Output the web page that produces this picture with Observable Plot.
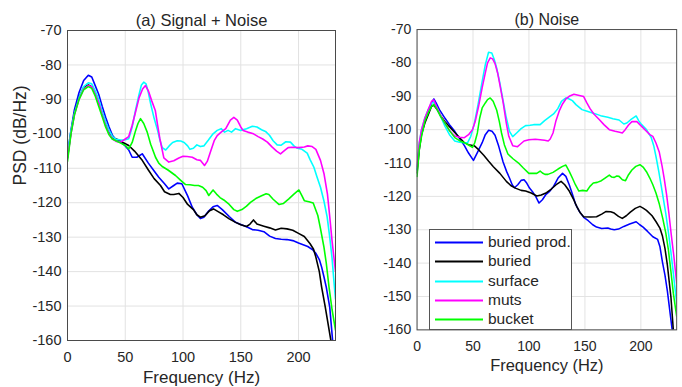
<!DOCTYPE html>
<html><head><meta charset="utf-8">
<script src="https://cdn.jsdelivr.net/npm/d3@7"></script>
<script src="https://cdn.jsdelivr.net/npm/@observablehq/plot@0.6"></script>
<style>
html,body{margin:0;padding:0;background:#fff;overflow:hidden}
#wrap{position:relative;width:682px;height:387px;overflow:hidden;background:#fff}
#left{position:absolute;left:0;top:0}
#right{position:absolute;left:341px;top:0}
#legend{position:absolute;left:429px;top:229px;width:143px;height:101px;border:1px solid #555;background:#fff;box-sizing:border-box;font-family:"Liberation Sans",Arial,sans-serif;font-size:15.5px;color:#262626}
#legend .row{position:absolute;left:0;height:19px;line-height:19px;white-space:nowrap}
#legend svg{position:absolute;left:5px;top:9px}
#legend span{position:absolute;left:58px;top:0}
</style></head>
<body><div id="wrap"><div id="left"></div><div id="right"></div><div id="legend"></div></div>
<script>
const seriesNames = ["buried prod.", "buried", "surface", "muts", "bucket"];
const seriesColors = ["#0000ff", "#000000", "#00ffff", "#ff00ff", "#00ff00"];
const xTicks = [0, 50, 100, 150, 200];
const yTicks = [-160, -150, -140, -130, -120, -110, -100, -90, -80, -70];
const panelTitles = ["(a) Signal + Noise", "(b) Noise"];

// (a) Signal + Noise  [frequency Hz, PSD dB/Hz]
const aBuriedProd = [[0,-106],[3,-99],[6,-93],[10,-88],[14,-84.5],[18,-83],[21,-83.5],[24,-86],[27,-88.5],[30,-92],[33,-95.2],[36,-98],[39,-100.5],[42,-101.7],[45,-102],[50,-103.5],[53,-104.7],[56,-106.8],[60,-106.8],[64.7,-105.8],[70,-108.5],[75,-110.8],[79,-112.6],[84,-114.5],[87.7,-116],[92,-115],[95,-114.3],[99,-114.5],[104,-118],[108,-121.3],[112,-123.5],[115,-124.6],[118,-124.2],[122,-122.5],[126,-121.2],[129.6,-120.8],[134,-122],[140,-124],[145.5,-125.7],[150,-126.3],[155,-127],[160,-127.8],[165,-128],[170,-128.4],[175,-129.7],[180,-130.4],[185,-130.6],[190,-130.7],[195,-131],[200,-131.7],[208,-132.7],[212,-133.6],[215,-134.7],[218,-136.5],[220,-138.7],[222,-141.5],[224,-144.5],[227,-150.3],[229.5,-160],[231,-165]];
const aBuried = [[0,-107],[3,-99.5],[6,-94],[10,-89.5],[14,-86.5],[18,-85.8],[21,-86.3],[24,-88.5],[27,-91],[30,-94],[33,-97],[36,-99.5],[40,-101.3],[44,-101.7],[48,-102.5],[53,-103.4],[58,-105],[64.7,-107.7],[70,-110.5],[75,-113],[80.5,-115],[84,-116.8],[89,-117.6],[92,-117.6],[96.4,-117.3],[100,-118.5],[104,-120.5],[109,-122],[112,-123.5],[115,-124.2],[119,-123.8],[123,-122.3],[126.4,-121.8],[130,-122.5],[135,-123.5],[140,-124.7],[145.5,-125.7],[150,-126.4],[155,-126.9],[158,-126.2],[161,-125],[164,-126.2],[170,-126.8],[175,-127.3],[180,-127.9],[185,-127.4],[190,-127.6],[195,-128],[200,-128.9],[205,-129.8],[210,-131.9],[213,-133.5],[215,-135.8],[218,-140],[220,-144.5],[223,-150],[225,-154],[228,-160],[230,-165]];
const aSurface = [[0,-106],[3,-99],[6,-94],[10,-89.5],[14,-86.3],[18,-85.2],[21,-85.5],[24,-87.5],[27,-90],[30,-93.5],[33,-96.5],[36,-99],[39,-100.8],[42,-101.6],[46,-101.8],[50,-101.7],[53,-101.4],[56,-98],[59,-93],[62,-88.5],[64,-85.8],[66,-85],[68,-85.5],[70,-88],[72,-91.3],[75,-95.5],[78,-99],[80,-101.8],[82,-104],[85,-104.7],[88,-103.5],[91,-102.5],[95,-102],[98,-102.1],[101,-102.5],[104,-103.5],[106,-104.5],[109,-104.2],[112,-103.2],[115,-103.7],[118,-103.5],[122,-101.8],[126,-100],[129.6,-99],[133,-98.5],[136,-99.5],[139,-99],[142,-99.5],[145.5,-98.5],[150,-99],[155,-98.5],[160,-97.8],[164,-98],[168,-98.8],[171.4,-99.3],[175,-100.5],[178,-102],[181.5,-103.2],[185,-103.3],[189,-102.3],[193,-102.4],[196,-103.5],[199,-104.2],[203,-104.5],[207.5,-105.6],[210,-107.5],[213.3,-109.7],[216,-112.5],[219,-115.5],[222,-119.5],[224.8,-124.2],[227,-130],[229,-136],[230.6,-142.6],[232,-148]];
const aMuts = [[0,-107],[3,-100],[6,-94.5],[10,-90],[14,-87],[18,-86],[21,-86.3],[24,-88.5],[27,-91],[30,-94.5],[33,-97.5],[36,-100],[39,-101.5],[42,-102.2],[46,-102.4],[50,-101.5],[53,-100.8],[56,-97.5],[59,-93.5],[62,-89.5],[65,-87],[67.5,-86],[70,-87.5],[73,-90.5],[76,-93.2],[78,-97.5],[80,-101.5],[83.4,-107],[87.7,-108.2],[92,-107.8],[96.4,-107],[100,-106.5],[103.6,-106.6],[108,-106.8],[112,-107.5],[115,-107.7],[118.6,-109.2],[121,-108],[124,-105],[127,-102],[129.6,-100.5],[133,-99.5],[137,-98.5],[141,-96],[144,-95.2],[147,-96],[150,-98],[152,-99],[156,-99.5],[161,-100],[165,-100.8],[169,-101.5],[173,-102.4],[177,-103.8],[181,-105],[184.4,-105.8],[188,-104.8],[191,-104],[194.5,-103.9],[200,-104],[205,-103.8],[208,-103.5],[211.8,-103.7],[215,-104.5],[219,-107.7],[222,-111.5],[225,-117.4],[227,-124],[229,-131],[232,-140]];
const aBucket = [[0,-108],[3,-100],[6,-94.5],[10,-90],[14,-87.2],[18,-86.3],[21,-86.8],[24,-89],[27,-92],[30,-95],[33,-98],[36,-100.3],[38.7,-101.5],[42,-102],[46,-102.7],[50.2,-103.4],[53,-104.4],[56,-102.5],[59,-99],[61,-97],[63.2,-95.6],[66,-97],[69,-99.5],[72,-103],[76.2,-106.8],[79,-108.5],[82,-109.5],[87,-110.5],[93.5,-112.1],[98,-113.5],[102,-114.7],[106,-114.8],[110,-115],[113.4,-115],[117,-115.5],[120,-116.5],[122.3,-117.9],[126,-116.3],[129,-117.5],[132,-118.5],[135.3,-119.2],[140,-120.5],[144,-122],[147,-122.5],[151,-122],[155,-121],[158.4,-119.9],[163,-118.8],[168,-118],[172,-117.4],[174.3,-117.6],[178,-119],[183,-120.5],[187,-120.2],[191.6,-118.9],[196,-117.5],[200.3,-116.3],[203,-118],[205,-119.4],[209,-119.7],[212.7,-120.1],[216.7,-123.7],[219,-127.5],[222,-132.9],[224,-137.5],[226.4,-144.5],[229,-151],[232,-157]];

// (b) Noise
const bBuriedProd = [[0,-112],[2,-105],[4,-101],[7,-97.5],[10,-95],[13,-92],[15,-90.8],[17,-92],[20,-94],[25,-96.6],[29,-98.5],[33.7,-100.5],[38,-102.7],[42.3,-104.8],[46,-107],[50.4,-109.2],[54,-106.8],[58.2,-103.9],[61,-101.5],[64,-100.2],[67,-100.5],[69.7,-101.7],[73,-105],[76.9,-109.7],[80,-112.5],[82.6,-114.5],[85,-116.5],[87,-117.4],[90,-116.5],[93,-115.2],[95.6,-115],[98,-116],[100.5,-117.5],[103,-118.5],[106,-120],[109,-122],[112,-121],[115,-119.5],[118.7,-118.4],[122,-117],[126,-114.5],[130,-113.1],[133,-114],[136,-116.5],[139,-119.5],[141.6,-122.3],[145,-124.5],[148.9,-126.3],[153,-127.3],[157,-128.5],[160.4,-129.2],[165,-129.6],[170.5,-129.5],[173,-129.8],[176.2,-130],[180,-129.8],[184.8,-129],[190,-128.3],[195.8,-127.6],[199,-128.5],[202,-129.2],[206,-130.5],[210.7,-132.1],[215,-132.9],[217,-135],[219.3,-139.7],[221.5,-143.5],[223.7,-148.4],[226.9,-157.1],[228,-160],[230,-166]];
const bBuried = [[0,-113],[2,-106],[4,-101.5],[7,-98],[10,-95.5],[13,-93],[15,-92.7],[18,-94],[21,-95.8],[25,-97.6],[30,-99.5],[36.6,-101.9],[42.3,-103.9],[46,-104.5],[51,-104.8],[55,-106],[59.6,-107.7],[64,-109.5],[68.2,-111.1],[74,-113.1],[79.8,-115.5],[84,-116.8],[88.4,-117.6],[93,-118.2],[97,-118.4],[102,-119],[107,-119.9],[111,-119.6],[115.7,-118.9],[120,-117.8],[125,-116.3],[128.7,-115.5],[132,-116.5],[136,-118.4],[140,-121],[143,-123.2],[146,-125],[148.9,-126.1],[155,-126.2],[160.4,-126.1],[165,-125.3],[169,-124.5],[173,-124.6],[176.2,-125],[180,-126],[183.4,-126.6],[187,-125.8],[190.6,-124.7],[195,-123.6],[199.2,-123],[202,-123.5],[205,-124.2],[210,-125.8],[213.6,-127.6],[217,-129.5],[219.3,-131.9],[221.5,-135.5],[223.7,-140.6],[226.9,-150.3],[229,-160],[231,-166]];
const bSurface = [[0,-112],[2,-104],[4,-100],[7,-96.5],[10,-94],[13,-92],[15,-91.8],[18,-93.5],[21,-96],[25,-99],[29,-101.5],[33.7,-103.4],[38,-103.8],[42,-103.9],[45.2,-103.9],[48,-102],[51,-98.5],[54.5,-92.5],[58.2,-85.5],[61,-80.5],[63.9,-76.8],[66.8,-77],[69,-79],[71.2,-81.6],[74,-86],[76.9,-91.3],[79.5,-96],[82.6,-100.5],[85.5,-102.1],[89,-101],[93,-99.7],[97,-98.8],[101,-98.7],[104.2,-98.5],[110,-98.5],[114,-97.3],[118.7,-96.1],[122,-95.3],[125.8,-93.7],[129,-91.5],[133,-90.5],[136,-90.8],[138.8,-91.3],[142,-92.5],[147.4,-94],[152,-94.5],[158.9,-95.2],[164,-95.8],[170.5,-96.3],[175,-96.7],[180.5,-97.1],[184.8,-98.3],[187.5,-98],[190.6,-97.1],[195.8,-95.9],[198,-97.3],[200.7,-98.5],[205,-100],[209.3,-102.4],[211.5,-104.8],[213.6,-108.2],[216,-112.5],[218,-116.5],[220,-120.5],[222.3,-125.2],[224.5,-130.5],[226.9,-136.8],[229,-143],[232,-152]];
const bMuts = [[0,-111],[2,-104],[4,-100],[7,-96.5],[10,-94],[13,-91.5],[15,-91.1],[18,-93.5],[21,-95.8],[25,-98.1],[29,-100.3],[33.7,-101.9],[38,-102.3],[42.3,-102.4],[46,-101.5],[49.5,-100],[52,-97.5],[55,-93],[58.2,-87.4],[61,-83],[63,-80],[65.4,-78.5],[67.5,-78.8],[69.7,-80.2],[72,-83],[74,-86.5],[77,-92],[79.8,-98.1],[82,-102],[85.5,-104.8],[89.8,-105.1],[92.5,-104.3],[95.6,-103.4],[100,-103],[105.7,-102.9],[110,-103],[114,-103.2],[117.2,-103.4],[119,-102.8],[121.5,-101],[124,-97.5],[127.3,-94.2],[130,-92.3],[133,-90.8],[136,-90],[140.2,-89.4],[145,-89.8],[148.9,-90.1],[151.5,-91.8],[154.6,-93.7],[158,-95.3],[163.2,-97.1],[167,-98.5],[171.8,-100],[177,-100.5],[181,-100.8],[183.4,-101],[186,-100],[189,-98.6],[192,-97.6],[196.4,-97.6],[200,-98.8],[205,-100.5],[208,-101.5],[210.7,-102],[213.5,-104],[216.5,-106.8],[219,-111],[220.8,-114.5],[223,-119.5],[225.1,-125.2],[227,-131],[229.5,-138],[232,-146]];
const bBucket = [[0,-114],[2,-106],[4,-102],[7,-97.5],[10,-95],[13,-93],[15,-92.4],[18,-94],[21,-96],[25,-98.1],[29,-100.3],[33.7,-102.4],[38,-103.3],[42.3,-103.9],[46,-104.6],[49.5,-105.3],[51.5,-104],[53.9,-101],[56,-96.5],[58.2,-93.5],[61,-92],[63,-91],[65.4,-90.5],[68,-91.5],[71.2,-94.2],[73.5,-97.5],[75.5,-101],[78,-104.5],[81.2,-107.3],[86,-108.8],[91.3,-110.2],[95,-111.5],[99.9,-113.1],[104.2,-113.1],[107,-113.1],[110,-112.4],[112,-113],[114.3,-113.4],[117,-113.4],[121.5,-112.8],[126,-111.8],[130,-111],[133,-110.6],[136,-112.5],[138.8,-114.5],[141.5,-116.5],[144.6,-118.4],[148,-118.2],[151.7,-118.4],[154.5,-117],[157.5,-116],[161,-115.8],[164.7,-115.3],[168,-114.5],[171.8,-113.6],[174,-114.2],[176.2,-114.3],[178.5,-113.9],[180.5,-114],[183.5,-115],[186.3,-115.3],[189,-113.5],[192,-112.1],[195.5,-111],[199.2,-110.5],[202,-111.2],[205,-112.6],[208,-114.5],[210.7,-116.5],[213.5,-119],[216.5,-122.3],[219.5,-126.5],[222.3,-131],[224.6,-136],[226.9,-142.6],[229,-149],[232,-156]];

const panelA = [aBuriedProd, aBuried, aSurface, aMuts, aBucket];
const panelB = [bBuriedProd, bBuried, bSurface, bMuts, bBucket];

function rows(panel) {
  return panel.flatMap((arr, i) => arr.map(([f, v]) => ({f, v, s: seriesNames[i]})));
}

const FONT = '"Liberation Sans", Arial, Helvetica, sans-serif';
const INK = "#262626";

function panel({data, title, yLabel, width, marginLeft}) {
  const marks = [
    Plot.gridX(xTicks, {stroke: "#e2e2e2", strokeOpacity: 1}),
    Plot.gridY(yTicks, {stroke: "#e2e2e2", strokeOpacity: 1}),
    Plot.line(rows(data), {x: "f", y: "v", z: "s", stroke: "s", strokeWidth: 1.6, clip: true}),
    Plot.axisX(xTicks, {anchor: "bottom", tickSize: 0, tickPadding: 11, tickFormat: d => String(d), fontSize: 14.5, fill: INK}),
    Plot.axisY(yTicks, {anchor: "left", tickSize: 0, tickPadding: 6, tickFormat: d => String(d), fontSize: 14.5, fill: INK}),
    Plot.frame({stroke: "#4a4a4a", strokeWidth: 1}),
    Plot.text([title], {frameAnchor: "top", dy: -5, lineAnchor: "bottom", fontSize: 16.5, fill: INK}),
    Plot.text(["Frequency (Hz)"], {frameAnchor: "bottom", dy: 42.5, lineAnchor: "bottom", fontSize: 17, fill: INK})
  ];
  if (yLabel) marks.push(Plot.text([yLabel], {frameAnchor: "left", dx: -42, rotate: -90, lineAnchor: "bottom", fontSize: 17.5, fill: INK}));
  return Plot.plot({
    width, height: 387, marginTop: 30, marginBottom: 47, marginLeft, marginRight: 6,
    style: {fontFamily: FONT, color: INK, background: "white", overflow: "visible"},
    x: {domain: [0, 232], label: null},
    y: {domain: [-160, -70], label: null},
    color: {domain: seriesNames, range: seriesColors},
    marks
  });
}

document.getElementById("left").append(panel({data: panelA, title: panelTitles[0], yLabel: "PSD (dB/Hz)", width: 341, marginLeft: 67}));
document.getElementById("right").append(panel({data: panelB, title: panelTitles[1], yLabel: null, width: 352, marginLeft: 78}));

// legend
const leg = document.getElementById("legend");
seriesNames.forEach((name, i) => {
  const row = document.createElement("div");
  row.className = "row";
  row.style.top = (2 + i * 19.3) + "px";
  row.style.width = "140px";
  row.innerHTML = `<svg width="48" height="3"><line x1="0" y1="1.5" x2="48" y2="1.5" stroke="${seriesColors[i]}" stroke-width="1.8"/></svg><span>${name}</span>`;
  leg.append(row);
});
</script></body></html>
